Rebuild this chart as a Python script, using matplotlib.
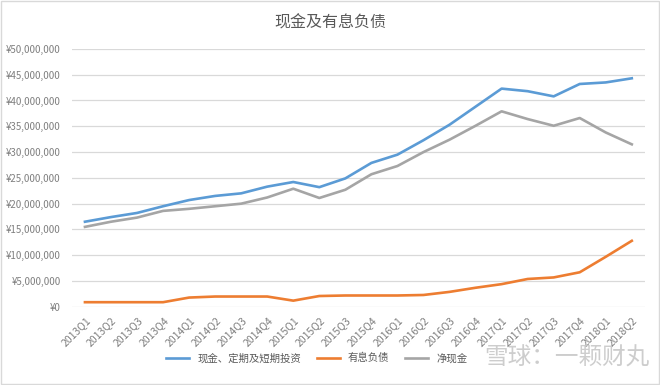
import matplotlib
matplotlib.use("Agg")
import matplotlib.pyplot as plt
from matplotlib.ticker import FuncFormatter

plt.rcParams['font.family'] = ['Noto Sans CJK SC', 'DejaVu Sans']

quarters = ['2013Q1', '2013Q2', '2013Q3', '2013Q4', '2014Q1', '2014Q2', '2014Q3', '2014Q4',
            '2015Q1', '2015Q2', '2015Q3', '2015Q4', '2016Q1', '2016Q2', '2016Q3', '2016Q4',
            '2017Q1', '2017Q2', '2017Q3', '2017Q4', '2018Q1', '2018Q2']
# 单位：百万
cash = [16.5, 17.4, 18.2, 19.5, 20.7, 21.5, 22.0, 23.3, 24.2, 23.2, 24.9, 27.9,
        29.5, 32.3, 35.3, 38.8, 42.3, 41.8, 40.8, 43.2, 43.5, 44.3]
debt = [0.9, 0.9, 0.9, 0.9, 1.8, 2.0, 2.0, 2.0, 1.2, 2.1, 2.2, 2.2,
        2.2, 2.3, 2.9, 3.7, 4.4, 5.4, 5.7, 6.7, 9.7, 12.8]
net = [15.5, 16.5, 17.3, 18.6, 19.0, 19.5, 20.0, 21.2, 22.9, 21.1, 22.7, 25.7,
       27.3, 30.0, 32.4, 35.1, 37.9, 36.4, 35.1, 36.6, 33.8, 31.5]

fig = plt.figure(figsize=(6.6, 3.85), dpi=100)
ax = fig.add_axes([0.109, 0.203, 0.868, 0.67])

x = range(len(quarters))
ax.plot(x, [v * 1e6 for v in cash], color='#5B9BD5', lw=1.9, label='现金、定期及短期投资')
ax.plot(x, [v * 1e6 for v in debt], color='#ED7D31', lw=1.9, label='有息负债')
ax.plot(x, [v * 1e6 for v in net], color='#A5A5A5', lw=1.9, label='净现金')

ax.set_xlim(-0.5, len(quarters) - 0.5)
ax.set_ylim(0, 50e6)
ax.set_yticks([i * 5e6 for i in range(11)])
ax.yaxis.set_major_formatter(FuncFormatter(lambda v, p: '¥{:,.0f}'.format(v)))
ax.set_xticks(list(x))
ax.set_xticklabels(quarters, rotation=45, ha='right', rotation_mode='anchor')
ax.tick_params(axis='both', length=0, colors='#7F7F7F', labelsize=7)
ax.tick_params(axis='x', labelsize=7.5, pad=6)
ax.tick_params(axis='y', pad=8)
ax.grid(axis='y', color='#D9D9D9', lw=0.9)
ax.set_axisbelow(True)
for s in ax.spines.values():
    s.set_visible(False)

fig.text(0.5, 0.94, '现金及有息负债', ha='center', va='center', fontsize=11.5, color='#595959')
fig.legend(loc='center', bbox_to_anchor=(0.48, 0.07), ncol=3, frameon=False,
           fontsize=7.5, labelcolor='#595959', handlelength=2.2, columnspacing=1.5)

# 水印
fig.text(0.985, 0.07, '雪球：一颗财丸', ha='right', va='center', fontsize=17,
         color='#C8C8C8', alpha=0.9)

fig.patches.append(plt.Rectangle((0.002, 0.002), 0.996, 0.996, transform=fig.transFigure,
                                 fill=False, edgecolor='#D9D9D9', lw=1))

fig.savefig('out.png', dpi=100)
